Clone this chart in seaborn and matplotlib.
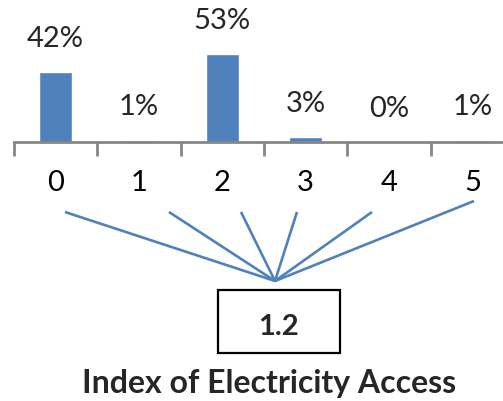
import matplotlib
matplotlib.use("Agg")
import matplotlib.pyplot as plt
import seaborn as sns
import pandas as pd
from matplotlib.patches import Rectangle

# ---- data ----
categories = ["0", "1", "2", "3", "4", "5"]
shares = [42, 1, 53, 3, 0, 1]
share_labels = ["42%", "1%", "53%", "3%", "0%", "1%"]
index_value = "1.2"
title = "Index of Electricity Access"

BLUE = "#4F81BD"
GREY = "#868686"

sns.set_theme(style="white")
plt.rcParams['font.family'] = ['Lato', 'DejaVu Sans']

W, H = 503, 401
fig = plt.figure(figsize=(W / 100, H / 100), dpi=100)


def px(x0, y0, x1, y1):
    return [x0 / W, 1 - y1 / H, (x1 - x0) / W, (y1 - y0) / H]


df = pd.DataFrame({"score": categories, "share": shares})

ax = fig.add_axes(px(14, 42, 514, 142))
sns.barplot(data=df, x="score", y="share", order=categories, color=BLUE,
            saturation=1, width=0.4, ax=ax)
ax.set_xlim(-0.5, 5.5)
ax.set_ylim(0, 60)
ax.patch.set_alpha(0)
for s in ["left", "top", "right"]:
    ax.spines[s].set_visible(False)
ax.spines["bottom"].set_color(GREY)
ax.spines["bottom"].set_linewidth(2)
ax.set_yticks([])
ax.set_xlabel("")
ax.set_ylabel("")
ax.set_xticks(range(len(categories)))
ax.set_xticklabels(categories, fontsize=21, color="black")
ax.set_xticks([i - 0.5 for i in range(len(categories) + 1)], minor=True)
ax.tick_params(axis="x", which="major", length=0, pad=20, bottom=True)
ax.tick_params(axis="x", which="minor", length=10, width=2, color=GREY,
               direction="out", bottom=True)

for p, lab in zip(ax.patches, share_labels):
    ax.annotate(lab, (p.get_x() + p.get_width() / 2, p.get_height()),
                xytext=(0, 25), textcoords="offset pixels", ha="center",
                va="baseline", fontsize=21, annotation_clip=False)

# ---- overlay: connector lines, box, title ----
ov = fig.add_axes([0, 0, 1, 1])
ov.set_xlim(0, W)
ov.set_ylim(H, 0)
ov.axis("off")
ov.patch.set_alpha(0)

apex = (275, 281)
tops = [(65, 212), (169, 212), (241, 212), (297, 212), (372, 212), (474, 201)]
for (x, y) in tops:
    ov.plot([x, apex[0]], [y, apex[1]], color=BLUE, lw=1.9,
            solid_capstyle="butt")

ov.add_patch(Rectangle((218, 290), 122, 63, fill=False, ec="black", lw=1.6))
ov.text(279, 335, index_value, ha="center", va="baseline", fontsize=21,
        fontweight="bold")
ov.text(269, 393, title, ha="center", va="baseline", fontsize=23,
        fontweight="bold")

fig.savefig("out.png", dpi=100)
